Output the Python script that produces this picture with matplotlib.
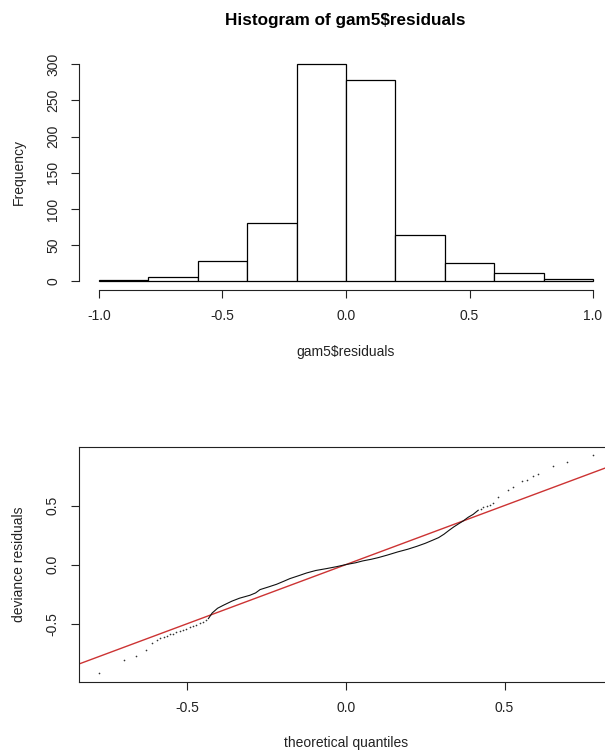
import numpy as np
import matplotlib
matplotlib.use("Agg")
import matplotlib.pyplot as plt

plt.rcParams['font.family'] = ['Liberation Sans', 'DejaVu Sans']
plt.rcParams['axes.unicode_minus'] = False

# ---------------- data ----------------
bin_edges = [-1.0, -0.8, -0.6, -0.4, -0.2, 0.0, 0.2, 0.4, 0.6, 0.8, 1.0]
counts = [2, 6, 28, 80, 300, 278, 64, 25, 12, 3]
hist_xticks = [-1.0, -0.5, 0.0, 0.5, 1.0]
hist_xticklabels = ['-1.0', '-0.5', '0.0', '0.5', '1.0']
hist_yticks = [0, 50, 100, 150, 200, 250, 300]

# QQ plot: sparse lower tail points
qq_low_x = [-0.779, -0.699, -0.663, -0.632, -0.612, -0.595, -0.585, -0.575, -0.565,
            -0.555, -0.545, -0.535, -0.525, -0.515, -0.503, -0.492, -0.482, -0.472,
            -0.461, -0.450, -0.440]
qq_low_y = [-0.918, -0.805, -0.771, -0.727, -0.663, -0.635, -0.619, -0.612, -0.605,
            -0.592, -0.585, -0.575, -0.565, -0.555, -0.542, -0.530, -0.520, -0.510,
            -0.497, -0.485, -0.470]
# QQ plot: dense middle part (drawn as a continuous trace)
qq_mid_x = [-0.434, -0.422, -0.405, -0.387, -0.360, -0.336, -0.303, -0.285, -0.271,
            -0.245, -0.219, -0.195, -0.177, -0.150, -0.124, -0.095, -0.061, -0.030,
            0.000, 0.030, 0.053, 0.080, 0.102, 0.130, 0.163, 0.195, 0.224, 0.250,
            0.273, 0.292, 0.309, 0.325, 0.340, 0.355, 0.370, 0.385, 0.401, 0.417]
qq_mid_y = [-0.458, -0.410, -0.370, -0.345, -0.310, -0.285, -0.260, -0.240, -0.212,
            -0.190, -0.167, -0.140, -0.119, -0.095, -0.071, -0.050, -0.034, -0.018,
            0.000, 0.015, 0.031, 0.045, 0.059, 0.080, 0.107, 0.130, 0.155, 0.180,
            0.206, 0.228, 0.257, 0.290, 0.319, 0.345, 0.370, 0.400, 0.425, 0.460]
# QQ plot: sparse upper tail points
qq_high_x = [0.425, 0.433, 0.445, 0.455, 0.465, 0.480, 0.512, 0.528, 0.554, 0.570,
             0.591, 0.607, 0.654, 0.696, 0.780]
qq_high_y = [0.470, 0.488, 0.495, 0.505, 0.522, 0.568, 0.630, 0.658, 0.708, 0.720,
             0.748, 0.771, 0.833, 0.870, 0.926]
ref_line = [(-1.0, -1.0), (1.0, 1.0)]
qq_ticks = [-0.5, 0.0, 0.5]
qq_ticklabels = ['-0.5', '0.0', '0.5']

# ---------------- figure ----------------
W, H = 605, 751
fig = plt.figure(figsize=(W / 100, H / 100), dpi=100)


def rect(l, t, r, b):
    return [l / W, 1 - b / H, (r - l) / W, (b - t) / H]


TXT = '#222222'
FS = 10

# --- histogram ---
ax1 = fig.add_axes(rect(79.2, 55.6, 612.8, 290))
ax1.bar(bin_edges[:-1], counts, width=np.diff(bin_edges), align='edge',
        color='white', edgecolor='black', linewidth=0.9)
ax1.set_xlim(-1.08, 1.08)
ax1.set_ylim(-12, 312)
for s in ['top', 'right']:
    ax1.spines[s].set_visible(False)
ax1.spines['left'].set_bounds(0, 300)
ax1.spines['bottom'].set_bounds(-1.0, 1.0)
ax1.set_xticks(hist_xticks)
ax1.set_xticklabels(hist_xticklabels)
ax1.set_yticks(hist_yticks)
ax1.set_yticklabels([str(v) for v in hist_yticks], rotation=90, va='center')
ax1.tick_params(direction='out', length=5.8, width=0.8, labelsize=FS,
                colors='#222222', labelcolor=TXT)
ax1.tick_params(axis='x', pad=8)
ax1.tick_params(axis='y', pad=8)
for s in ['left', 'bottom']:
    ax1.spines[s].set_linewidth(0.8)
    ax1.spines[s].set_color('#222222')

fig.text(345 / W, 1 - 20 / H, 'Histogram of gam5$residuals', ha='center',
         va='center', fontsize=12.3, fontweight='bold', color='black', parse_math=False)
fig.text(346 / W, 1 - 352 / H, 'gam5$residuals', ha='center', va='center',
         fontsize=FS, color=TXT, parse_math=False)
fig.text(19 / W, 1 - 172 / H, 'Frequency', ha='center', va='center',
         rotation=90, fontsize=FS, color=TXT)

# --- QQ plot ---
ax2 = fig.add_axes(rect(79, 446.7, 613, 682.3))
ax2.plot([p[0] for p in ref_line], [p[1] for p in ref_line], color='#cc3333',
         linewidth=1.0, zorder=1)
ax2.plot(qq_mid_x, qq_mid_y, color='#111111', linewidth=0.8, zorder=2)
ax2.plot(qq_low_x, qq_low_y, linestyle='none', marker='o', markersize=1.2,
         markeredgewidth=0, color='#333333', zorder=2)
ax2.plot(qq_high_x, qq_high_y, linestyle='none', marker='o', markersize=1.2,
         markeredgewidth=0, color='#333333', zorder=2)
ax2.set_xlim(-0.842, 0.842)
ax2.set_ylim(-0.997, 0.998)
ax2.set_xticks(qq_ticks)
ax2.set_xticklabels(qq_ticklabels)
ax2.set_yticks(qq_ticks)
ax2.set_yticklabels(qq_ticklabels, rotation=90, va='center')
ax2.tick_params(direction='out', length=5.8, width=0.8, labelsize=FS,
                colors='#222222', labelcolor=TXT)
ax2.tick_params(axis='x', pad=8)
ax2.tick_params(axis='y', pad=8)
for s in ax2.spines.values():
    s.set_linewidth(0.8)
    s.set_color('#222222')

fig.text(346 / W, 1 - 743 / H, 'theoretical quantiles', ha='center', va='center',
         fontsize=FS, color=TXT)
fig.text(19 / W, 1 - 564 / H, 'deviance residuals', ha='center', va='center',
         rotation=90, fontsize=FS, color=TXT)

fig.savefig('out.png', dpi=100, facecolor='white')
